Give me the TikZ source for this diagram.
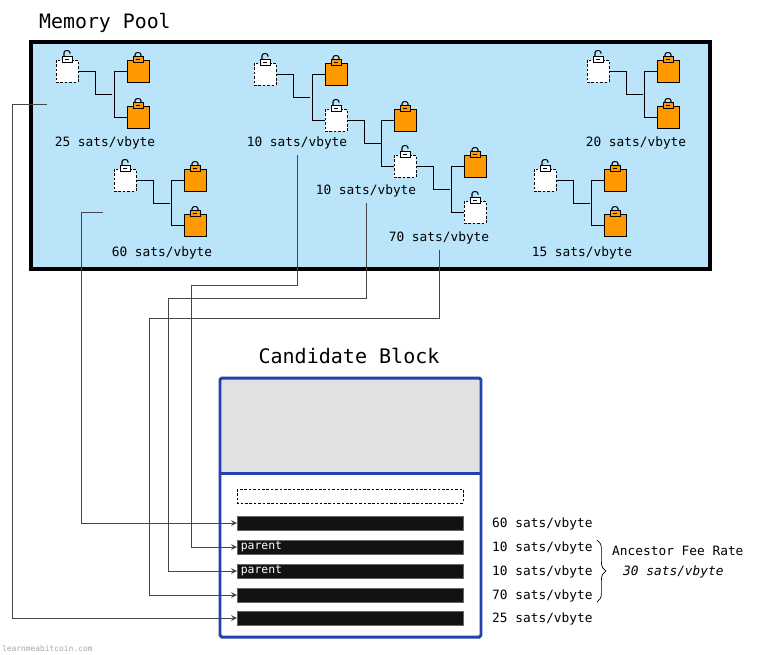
\documentclass[tikz,border=0pt]{standalone}
\usepackage{fontspec}
\setmainfont{DejaVu Sans Mono}
\usetikzlibrary{arrows,positioning,calc,decorations.pathreplacing}
\definecolor{poolblue}{RGB}{185,228,250}
\definecolor{txorange}{RGB}{255,153,0}
\definecolor{blockblue}{RGB}{35,65,175}
\definecolor{headgray}{RGB}{225,225,228}
\definecolor{linkgray}{RGB}{70,70,70}
\begin{document}
\begin{tikzpicture}[
    x=0.02cm, y=-0.02cm,
    parent/.style={rectangle, draw=black, dash pattern=on 1.5pt off 1pt, fill=white, minimum size=12.5pt, inner sep=0pt},
    child/.style={rectangle, draw=black, fill=txorange, minimum size=12.5pt, inner sep=0pt},
    rate/.style={font=\fontsize{7.3}{9}\selectfont},
    bar/.style={rectangle, fill=black!93, draw=black!60, minimum width=4.52cm, minimum height=0.28cm, inner sep=0pt},
    link/.style={->, >=stealth, draw=linkgray, line width=0.5pt},
    lock/.pic={
        \draw[line width=0.6pt, rounded corners=1.2pt] (-3,-2) -- (-3,-7) -- (3,-7) -- (3,-2);
        \draw[line width=0.5pt, fill=#1] (-5,-3) rectangle (5,3);
        \draw[line width=0.6pt] (-2,0) -- (2,0);
    },
    unlock/.pic={
        \draw[line width=0.6pt, rounded corners=1.2pt] (-3,-2) -- (-3,-9) -- (3,-9) -- (3,-6);
        \draw[line width=0.5pt, fill=white] (-5,-3) rectangle (5,3);
        \draw[line width=0.6pt] (-2,0) -- (2,0);
    }
]
\useasboundingbox (0,0) rectangle (758,654);

% Memory pool
\node[anchor=west, font=\fontsize{11.3}{13}\selectfont] (pooltitle) at (33,23) {Memory Pool};
\draw[line width=2.4pt, fill=poolblue] (31,42) rectangle (710,269);

% clusters
\foreach \name/\x/\y in {a/67/71, b/265/74, c/598/71, d/125/180, e/545/180, f/336/120, g/405/166, h/475/212} {
    \node[parent] (\name) at (\x,\y) {};
}
\foreach \name/\x/\y in {a1/138/71, a2/138/117, b1/336/74, c1/668/71, c2/668/117, d1/195/180, d2/195/225,
                         e1/615/180, e2/615/225, f1/405/120, g1/475/166} {
    \node[child] (\name) at (\x,\y) {};
    \pic at (\name.north) {lock=txorange};
}
\foreach \name in {a,b,c,d,e,f,g,h} {
    \pic at (\name.north) {unlock};
}

% tree lines
\foreach \p/\ca/\cb in {a/a1/a2, b/b1/f, c/c1/c2, d/d1/d2, e/e1/e2, f/f1/g, g/g1/h} {
    \draw[thin] (\p.east) -- ++(17,0) -- ++(0,23) -- ++(17,0);
    \draw[thin] (\ca.west) -- ++(-12,0) |- (\cb.west);
}

% fee rates
\node[rate] (ra) at (105,143) {25 sats/vbyte};
\node[rate] (rb) at (297,143) {10 sats/vbyte};
\node[rate] (rc) at (636,143) {20 sats/vbyte};
\node[rate] (rf) at (366,191) {10 sats/vbyte};
\node[rate] (rd) at (162,253) {60 sats/vbyte};
\node[rate] (rh) at (439,238) {70 sats/vbyte};
\node[rate] (re) at (582,253) {15 sats/vbyte};

% Candidate block
\node[font=\fontsize{11.4}{13}\selectfont] (blocktitle) at (349,356) {Candidate Block};
\fill[headgray] (220,378) rectangle (481,473);
\draw[blockblue, line width=1.7pt, rounded corners=1pt] (220,378) rectangle (481,637);
\draw[blockblue, line width=1.7pt] (220,473) -- (481,473);
\draw[dash pattern=on 1.5pt off 1pt, thin] (237,489) rectangle (463,503);

\foreach \name/\y in {t60/523, t10a/547, t10b/571, t70/595, t25/618} {
    \node[bar, anchor=west] (\name) at (237,\y) {};
}
\node[anchor=west, text=white, font=\fontsize{6.5}{7}\selectfont, inner sep=2pt] at (t10a.west) {parent};
\node[anchor=west, text=white, font=\fontsize{6.5}{7}\selectfont, inner sep=2pt] at (t10b.west) {parent};

\node[rate, anchor=west] (l60) at (486,524) {60 sats/vbyte};
\node[rate, anchor=west] (l10a) at (486,548) {10 sats/vbyte};
\node[rate, anchor=west] (l10b) at (486,572) {10 sats/vbyte};
\node[rate, anchor=west] (l70) at (486,596) {70 sats/vbyte};
\node[rate, anchor=west] (l25) at (486,619) {25 sats/vbyte};

\draw[decorate, decoration={brace, amplitude=5pt}, thin] (597,540) -- (597,602);
\node[rate, anchor=west] (anc) at (606,551) {Ancestor Fee Rate};
\node[rate, anchor=west, font=\fontsize{7.3}{9}\itshape] (ancrate) at (617,572) {30 sats/vbyte};

% links from pool to block
\coordinate (sa) at (47,104);
\coordinate (sd) at (103,212);
\draw[link] (sa) -- (12,104) |- (t25.west);
\draw[link] (sd) -- (81,212) |- (t60.west);
\draw[link] (rb.south) -- (297,285) -- (191,285) |- (t10a.west);
\draw[link] (rf.south) -- (366,298) -- (168,298) |- (t10b.west);
\draw[link] (rh.south) -- (439,318) -- (149,318) |- (t70.west);

\node[anchor=south west, text=black!35, font=\fontsize{4.5}{5}\selectfont, inner sep=1pt] (site) at (0,654) {learnmeabitcoin.com};
\end{tikzpicture}
\end{document}
